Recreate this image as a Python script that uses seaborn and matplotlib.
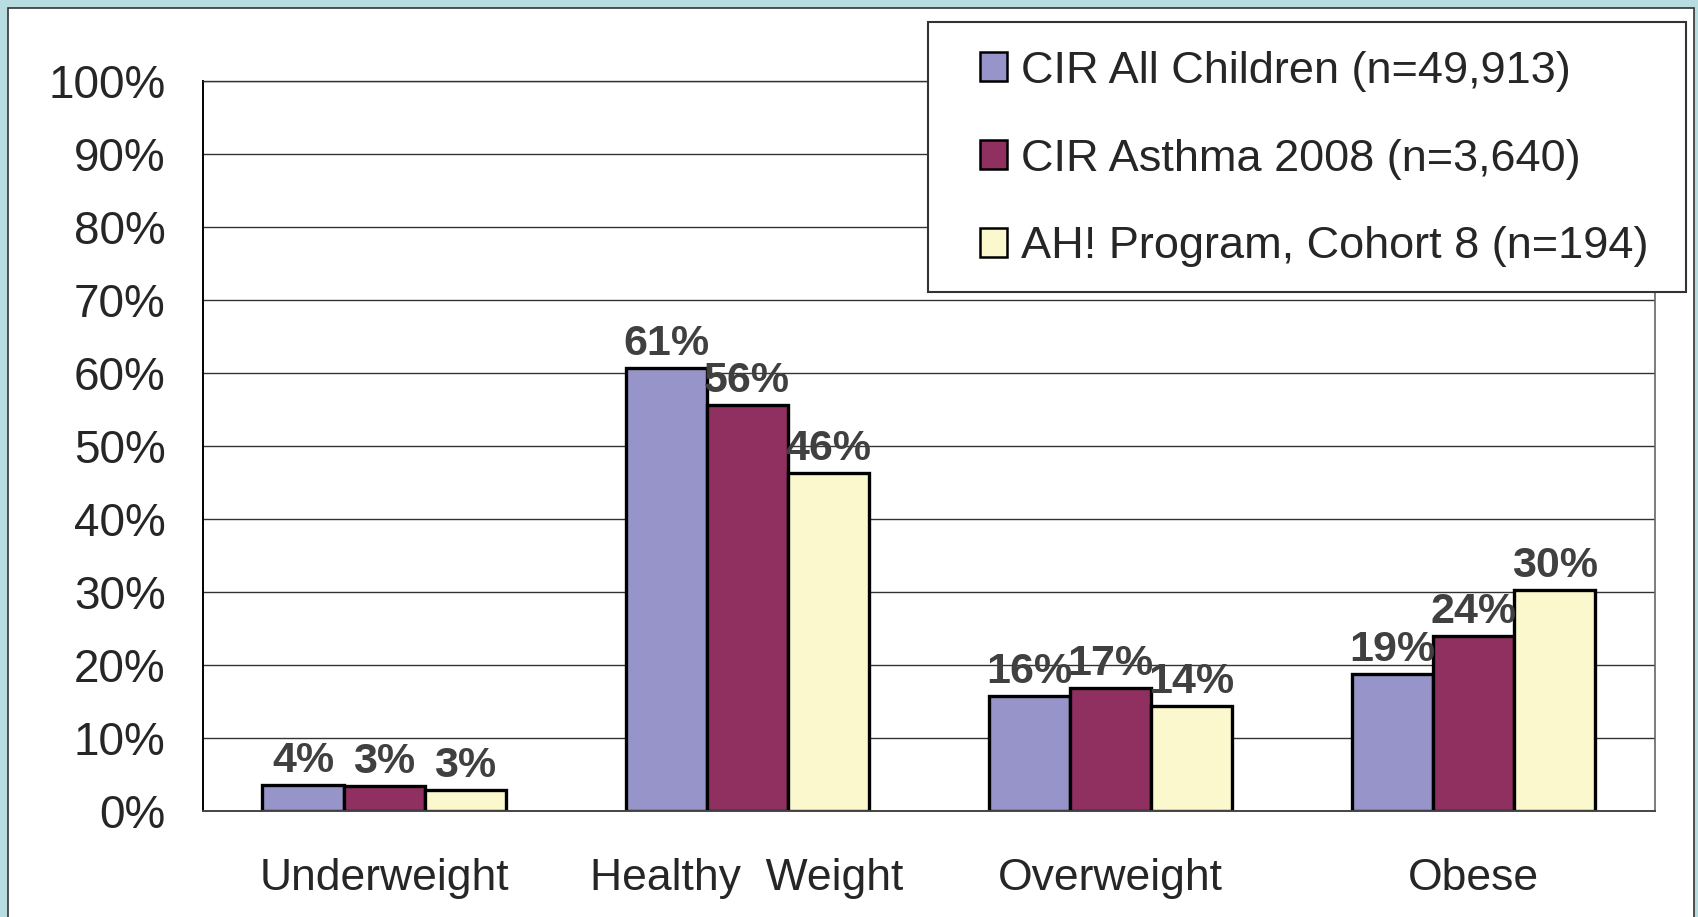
import matplotlib
matplotlib.use("Agg")
import matplotlib.pyplot as plt
from matplotlib.patches import Patch, Rectangle
import pandas as pd
import seaborn as sns

# ── Data ──────────────────────────────────────────────────────────────────────
categories = ["Underweight", "Healthy  Weight", "Overweight", "Obese"]
series = [
    "CIR All Children (n=49,913)",
    "CIR Asthma 2008 (n=3,640)",
    "AH! Program, Cohort 8 (n=194)",
]
cir_all_children = [3.6, 60.7, 15.7, 18.7]
cir_asthma_2008  = [3.4, 55.6, 16.8, 24.0]
ah_cohort_8      = [2.9, 46.3, 14.4, 30.3]
y_ticks = list(range(0, 101, 10))
y_tick_labels = [f"{t}%" for t in y_ticks]

colors = ["#9694c8", "#903060", "#faf8cc"]

rows = []
for s, vals in zip(series, [cir_all_children, cir_asthma_2008, ah_cohort_8]):
    for c, v in zip(categories, vals):
        rows.append({"category": c, "series": s, "value": v})
df = pd.DataFrame(rows)

# ── Style ─────────────────────────────────────────────────────────────────────
sns.set_style("white")
plt.rcParams["font.family"] = ["Liberation Sans", "DejaVu Sans"]

W, H = 1698, 917
fig = plt.figure(figsize=(W / 100, H / 100), dpi=100)
fig.patch.set_facecolor("#b8dde1")

# white slide panel
fig.add_artist(Rectangle((8 / W, -0.1), (1694 - 8) / W, (H - 8) / H + 0.1,
                         transform=fig.transFigure, facecolor="white",
                         edgecolor="#333333", linewidth=1.2, zorder=-5))

ax = fig.add_axes([202.5 / W, 1 - 811 / H, (1655 - 202.5) / W, (811 - 81) / H])

sns.barplot(data=df, x="category", y="value", hue="series",
            order=categories, hue_order=series, palette=colors,
            saturation=1, width=0.67, edgecolor="black", linewidth=2.4,
            legend=False, ax=ax)

# data labels
for cont, vals in zip(ax.containers, [cir_all_children, cir_asthma_2008, ah_cohort_8]):
    ax.bar_label(cont, labels=[f"{v:.0f}%" for v in vals], fontsize=31,
                 fontweight="bold", color="#404040", padding=3)

# ── Axes ──────────────────────────────────────────────────────────────────────
ax.set_ylim(0, 100)
ax.set_xlim(-0.5, len(categories) - 0.5)
ax.set_yticks(y_ticks)
ax.set_yticklabels(y_tick_labels, fontsize=33)
ax.set_xticks(range(len(categories)))
ax.set_xticklabels(categories, fontsize=32)
ax.set_xticks([i - 0.5 for i in range(len(categories) + 1)], minor=True)
ax.tick_params(axis="x", which="major", length=0, pad=34)
ax.tick_params(axis="x", which="minor", length=10, width=1.3, color="#555555", direction="out")
ax.tick_params(axis="y", length=9.5, width=1.3, color="#888888", direction="out", pad=17)
ax.set_xlabel("")
ax.set_ylabel("")
ax.yaxis.grid(True, color="#333333", linewidth=1.0)
ax.set_axisbelow(True)

ax.spines["left"].set_color("black")
ax.spines["left"].set_linewidth(1.4)
ax.spines["bottom"].set_color("#444444")
ax.spines["bottom"].set_linewidth(1.4)
ax.spines["right"].set_color("#666666")
ax.spines["right"].set_linewidth(1.2)
ax.spines["top"].set_color("#333333")
ax.spines["top"].set_linewidth(1.0)

# ── Legend ────────────────────────────────────────────────────────────────────
fig.add_artist(Rectangle((928 / W, 1 - 292 / H), (1686 - 928) / W, (292 - 22) / H,
                         transform=fig.transFigure, facecolor="white",
                         edgecolor="#333333", linewidth=1.5, zorder=5))
handles = [Patch(facecolor=c, edgecolor="black", linewidth=1.8) for c in colors]
leg = fig.legend(handles, series, loc="center left",
                 bbox_to_anchor=(980 / W, 1 - 159 / H),
                 frameon=False, prop={"size": 32.5},
                 handlelength=0.6, handleheight=0.6, handletextpad=0.3,
                 labelspacing=1.04, borderpad=0, borderaxespad=0)
leg.set_zorder(6)

fig.savefig("out.png", dpi=100, facecolor=fig.get_facecolor())
